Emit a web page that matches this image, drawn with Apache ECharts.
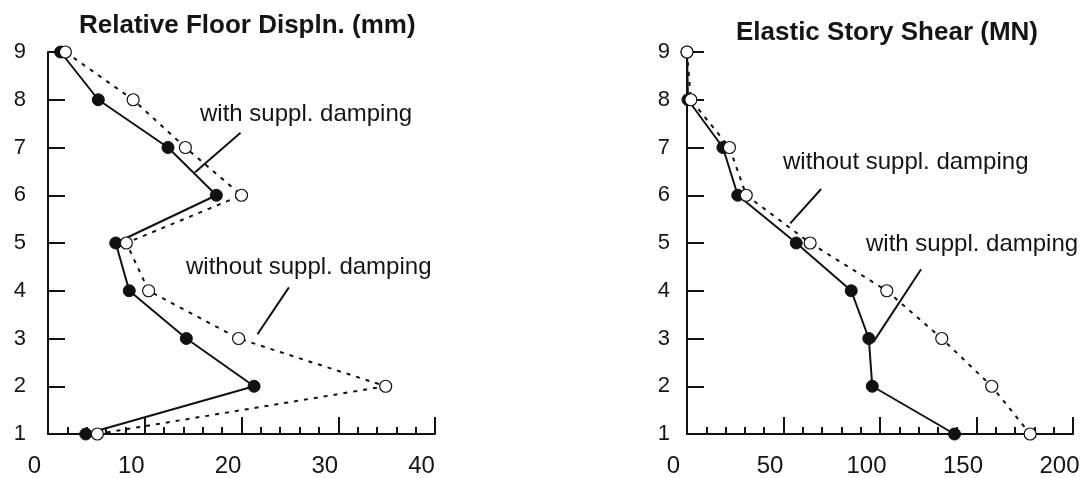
<!DOCTYPE html>
<html>
<head>
<meta charset="utf-8">
<script src="https://cdn.jsdelivr.net/npm/echarts@6/dist/echarts.min.js"></script>
<style>
html,body{margin:0;padding:0;background:#fff;}
#chart{width:1083px;height:478px;}
</style>
</head>
<body>
<div id="chart"></div>
<script>
// ---- data ----
const floors = [9, 8, 7, 6, 5, 4, 3, 2, 1];
const floorTicks = [1, 2, 3, 4, 5, 6, 7, 8, 9];
const displWith    = [1.3, 5.2, 12.4, 17.4, 7.0, 8.4, 14.3, 21.3, 3.9];
const displWithout = [1.8, 8.8, 14.2, 20.0, 8.1, 10.4, 19.7, 34.9, 5.1];
const shearWith    = [0, 0.5, 18.6, 26.3, 56.6, 85.1, 94.2, 96.0, 138.6];
const shearWithout = [0, 2.0, 22.0, 30.7, 63.8, 103.5, 132.0, 157.9, 177.8];
const displTicks = [0, 10, 20, 30, 40];
const shearTicks = [0, 50, 100, 150, 200];
const titles = ['Relative Floor Displn. (mm)', 'Elastic Story Shear (MN)'];
const labelWith = 'with suppl. damping';
const labelWithout = 'without suppl. damping';
// leader lines in data coordinates [x, floor]
const leaderDisplWith    = [[19.9, 7.31], [15.2, 6.48]];
const leaderDisplWithout = [[24.9, 4.07], [21.65, 3.09]];
const leaderShearWithout = [[69.5, 6.13], [53.5, 5.41]];
const leaderShearWith    = [[121.3, 4.45], [96.6, 2.93]];

const INK = '#111';
const TXT = '#151515';
const FONT = '"Liberation Sans", Arial, Helvetica, sans-serif';

function pairs(xs) { return xs.map((v, i) => [v, floors[i]]); }

function xAxis(gridIndex, ticks) {
  return {
    type: 'value', gridIndex,
    min: ticks[0], max: ticks[ticks.length - 1], interval: ticks[1] - ticks[0],
    axisLine: { show: true, onZero: false, lineStyle: { color: INK, width: 2 } },
    axisTick: { show: true, inside: true, length: 17, lineStyle: { color: INK, width: 2 } },
    minorTick: { show: true, splitNumber: 5, length: 7, lineStyle: { color: INK, width: 2 } },
    splitLine: { show: false },
    axisLabel: { fontSize: 24, color: TXT, fontFamily: FONT, margin: 20, padding: [0, 27, 0, 0] }
  };
}
function yAxis(gridIndex, margin) {
  return {
    type: 'value', gridIndex,
    min: floorTicks[0], max: floorTicks[floorTicks.length - 1], interval: 1,
    axisLine: { show: true, onZero: false, lineStyle: { color: INK, width: 2 } },
    axisTick: { show: true, inside: true, length: 17, lineStyle: { color: INK, width: 2 } },
    splitLine: { show: false },
    axisLabel: { fontSize: 22, color: TXT, fontFamily: FONT, margin, padding: [0, 0, 8, 0] }
  };
}
function leader(coords) {
  return {
    silent: true, symbol: ['none', 'none'], label: { show: false },
    lineStyle: { color: INK, width: 2, type: 'solid' },
    emphasis: { disabled: true },
    data: [[{ coord: coords[0] }, { coord: coords[1] }]]
  };
}
function withSeries(idx, vals, lead) {
  return {
    type: 'line', xAxisIndex: idx, yAxisIndex: idx, data: pairs(vals),
    symbol: 'circle', symbolSize: 12,
    itemStyle: { color: INK, borderColor: INK, borderWidth: 1 },
    lineStyle: { color: INK, width: 2 },
    markLine: leader(lead), z: 3, animation: false
  };
}
function withoutSeries(idx, vals, lead) {
  return {
    type: 'line', xAxisIndex: idx, yAxisIndex: idx, data: pairs(vals),
    symbol: 'circle', symbolSize: 12,
    itemStyle: { color: '#fff', borderColor: INK, borderWidth: 1.2 },
    lineStyle: { color: INK, width: 2, type: [4, 6] },
    markLine: leader(lead), z: 4, animation: false
  };
}

const chart = echarts.init(document.getElementById('chart'), null, { renderer: 'canvas' });
chart.setOption({
  backgroundColor: '#fff',
  animation: false,
  title: [
    { text: titles[0], left: 74, top: 8, textStyle: { fontSize: 26, fontWeight: 'bold', color: TXT, fontFamily: FONT } },
    { text: titles[1], left: 731, top: 15, textStyle: { fontSize: 26, fontWeight: 'bold', color: TXT, fontFamily: FONT } }
  ],
  grid: [
    { left: 48, top: 52, width: 387, height: 382 },
    { left: 687, top: 52, width: 386, height: 382 }
  ],
  xAxis: [xAxis(0, displTicks), xAxis(1, shearTicks)],
  yAxis: [yAxis(0, 22), yAxis(1, 17)],
  series: [
    withSeries(0, displWith, leaderDisplWith),
    withoutSeries(0, displWithout, leaderDisplWithout),
    withSeries(1, shearWith, leaderShearWith),
    withoutSeries(1, shearWithout, leaderShearWithout)
  ],
  graphic: [
    { type: 'text', left: 200, top: 102, style: { text: labelWith, font: '24px ' + FONT, fill: TXT } },
    { type: 'text', left: 186, top: 255, style: { text: labelWithout, font: '24px ' + FONT, fill: TXT } },
    { type: 'text', left: 783, top: 150, style: { text: labelWithout, font: '24px ' + FONT, fill: TXT } },
    { type: 'text', left: 866, top: 232, style: { text: labelWith, font: '24px ' + FONT, fill: TXT } }
  ]
});
</script>
</body>
</html>
